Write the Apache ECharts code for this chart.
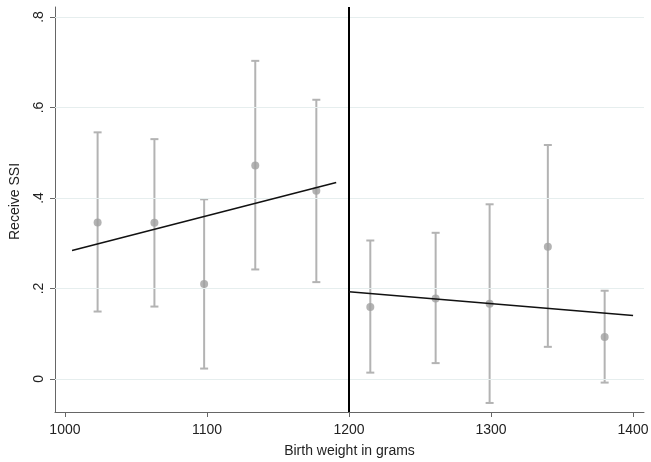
<!DOCTYPE html>
<html><head><meta charset="utf-8">
<script src="https://cdn.jsdelivr.net/npm/echarts@6/dist/echarts.min.js"></script>
<style>html,body{margin:0;padding:0;background:#fff}#c{width:651px;height:462px}</style>
</head><body><div id="c"></div>
<script>
// Data
const binX   = [1023, 1063, 1098, 1134, 1177, 1215, 1261, 1299, 1340, 1380];
const binEst = [0.346, 0.345, 0.210, 0.472, 0.416, 0.159, 0.178, 0.166, 0.292, 0.093];
const binLo  = [0.149, 0.160, 0.023, 0.242, 0.214, 0.014, 0.035, -0.053, 0.071, -0.008];
const binHi  = [0.545, 0.530, 0.397, 0.703, 0.617, 0.306, 0.323, 0.386, 0.517, 0.195];
const fitLeftX  = [1005, 1191];
const fitLeftY  = [0.284, 0.434];
const fitRightX = [1200, 1400];
const fitRightY = [0.193, 0.140];
const cutoff = 1200;
const xTicks = [1000, 1100, 1200, 1300, 1400];
const yTicks = [0, 0.2, 0.4, 0.6, 0.8];
const yTickLabels = ['0', '.2', '.4', '.6', '.8'];

const chart = echarts.init(document.getElementById('c'));
const font = 'Liberation Sans, Arial, sans-serif';
const errData = binX.map((x, i) => [x, binLo[i], binHi[i]]);
const gridColor = '#e6eeee';
const barColor = '#b3b3b3';

chart.setOption({
  animation: false,
  grid: {left: 55, right: 7, top: 7, bottom: 50, outerBoundsMode: 'none', containLabel: false},
  xAxis: {
    type: 'value', min: 993, max: 1407.7,
    name: 'Birth weight in grams', nameLocation: 'middle', nameGap: 32,
    nameTextStyle: {fontFamily: font, fontSize: 14, color: '#222'},
    axisLine: {show: true, onZero: false, lineStyle: {color: '#666', width: 1}},
    axisTick: {show: true, length: 5, lineStyle: {color: '#666'}, customValues: xTicks},
    axisLabel: {fontFamily: font, fontSize: 14, color: '#222', margin: 11, customValues: xTicks,
      formatter: v => String(Math.round(v))},
    splitLine: {show: false}
  },
  yAxis: {
    type: 'value', min: -0.073, max: 0.822,
    name: 'Receive SSI', nameLocation: 'middle', nameGap: 33,
    nameTextStyle: {fontFamily: font, fontSize: 14, color: '#222', padding: [0, 0, 0, 16]},
    axisLine: {show: true, onZero: false, lineStyle: {color: '#666', width: 1}},
    axisTick: {show: true, length: 5, lineStyle: {color: '#666'}, customValues: yTicks},
    axisLabel: {fontFamily: font, fontSize: 14, color: '#222', rotate: 90, margin: 9,
      customValues: yTicks,
      formatter: v => { const i = yTicks.findIndex(t => Math.abs(t - v) < 1e-6); return i >= 0 ? yTickLabels[i] : ''; }},
    splitLine: {show: false}
  },
  series: [
    {
      type: 'line', data: [], silent: true,
      markLine: {
        silent: true, symbol: 'none', label: {show: false},
        lineStyle: {color: gridColor, width: 1, type: 'solid'},
        data: yTicks.map(v => ({yAxis: v}))
      }
    },
    {
      type: 'line', data: [], silent: true, z: 5,
      markLine: {
        silent: true, symbol: 'none', label: {show: false},
        lineStyle: {color: '#000', width: 2, type: 'solid'},
        data: [{xAxis: cutoff}]
      }
    },
    {
      type: 'custom', data: errData, z: 3,
      renderItem: (params, api) => {
        const x = api.value(0);
        const lo = api.coord([x, api.value(1)]);
        const hi = api.coord([x, api.value(2)]);
        const cw = 4;
        const st = {stroke: barColor, lineWidth: 2};
        return {type: 'group', children: [
          {type: 'line', shape: {x1: lo[0], y1: lo[1], x2: hi[0], y2: hi[1]}, style: st},
          {type: 'line', shape: {x1: lo[0]-cw, y1: lo[1], x2: lo[0]+cw, y2: lo[1]}, style: st},
          {type: 'line', shape: {x1: hi[0]-cw, y1: hi[1], x2: hi[0]+cw, y2: hi[1]}, style: st}
        ]};
      }
    },
    {
      type: 'scatter', z: 4, symbol: 'circle', symbolSize: 8,
      itemStyle: {color: '#a0a0a0'},
      data: binX.map((x, i) => [x, binEst[i]])
    },
    {
      type: 'line', z: 6, symbol: 'none', lineStyle: {color: '#111', width: 1.5},
      data: fitLeftX.map((x, i) => [x, fitLeftY[i]])
    },
    {
      type: 'line', z: 6, symbol: 'none', lineStyle: {color: '#111', width: 1.5},
      data: fitRightX.map((x, i) => [x, fitRightY[i]])
    }
  ]
});
</script></body></html>
